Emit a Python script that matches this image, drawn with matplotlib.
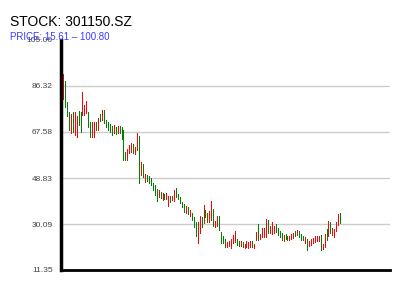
import matplotlib.pyplot as plt

plt.rcParams['font.family'] = ['Liberation Sans', 'DejaVu Sans']

TICKER = "301150.SZ"
PRICE_LOW = 15.61
PRICE_HIGH = 100.80

# daily open / close
opens = [
    81.0, 88.0, 79.4, 75.3, 67.2, 75.3, 66.4, 65.6, 75.7, 75.3,
    74.5, 74.5, 75.3, 75.3, 71.3, 65.6, 65.6, 71.3, 68.4, 74.5,
    72.5, 76.1, 72.1, 71.3, 70.4, 69.6, 67.2, 69.2, 67.2, 69.6,
    69.2, 68.0, 59.0, 56.2, 59.0, 59.4, 62.3, 58.6, 60.2, 65.6,
    50.1, 54.1, 47.2, 49.7, 49.3, 48.4, 46.4, 45.6, 44.0, 41.1,
    42.7, 39.9, 41.9, 40.3, 37.4, 41.1, 39.9, 39.5, 44.4, 41.9,
    40.7, 38.7, 37.8, 34.6, 36.6, 33.4, 34.2, 32.6, 30.5, 22.4,
    26.4, 32.6, 30.5, 35.4, 34.2, 30.9, 31.7, 35.8, 28.9, 29.3,
    33.0, 26.4, 24.8, 23.6, 20.7, 21.1, 20.3, 22.4, 22.8, 23.6,
    22.8, 21.1, 22.4, 20.3, 20.7, 20.3, 20.7, 22.8, 20.3, 23.6,
    29.7, 24.0, 24.8, 24.8, 24.8, 31.3, 26.4, 26.0, 26.4, 29.7,
    28.1, 26.8, 26.0, 23.2, 25.6, 24.8, 23.6, 24.0, 24.4, 26.8,
    25.6, 26.8, 25.6, 24.8, 22.4, 23.6, 21.1, 21.6, 22.4, 22.8,
    23.2, 23.2, 25.2, 19.9, 20.7, 27.7, 25.2, 30.5, 25.6, 24.8,
    27.3, 29.7, 34.2,
]
closes = [
    90.8, 77.8, 74.1, 68.4, 74.5, 67.6, 75.3, 73.7, 70.4, 67.6,
    83.5, 78.2, 79.8, 69.6, 65.6, 71.3, 71.3, 68.4, 72.9, 72.1,
    76.1, 71.3, 69.6, 68.4, 67.6, 66.4, 70.0, 66.8, 69.6, 67.2,
    64.7, 56.2, 56.2, 60.2, 61.9, 62.7, 59.0, 61.1, 66.8, 46.8,
    55.0, 49.3, 50.1, 47.6, 46.8, 46.0, 44.0, 41.9, 39.5, 43.6,
    40.7, 42.3, 40.3, 42.3, 41.1, 39.1, 41.1, 43.6, 41.1, 40.3,
    38.7, 37.0, 35.0, 37.0, 34.2, 35.4, 31.7, 28.9, 25.2, 30.5,
    33.0, 28.9, 37.4, 33.0, 30.9, 35.0, 39.1, 29.3, 30.9, 33.0,
    27.7, 22.4, 22.4, 20.7, 22.4, 22.8, 23.6, 25.2, 26.8, 21.6,
    21.1, 22.8, 20.7, 21.6, 22.8, 22.4, 22.8, 20.7, 21.6, 26.4,
    23.6, 25.6, 28.1, 28.1, 31.7, 26.4, 28.9, 30.5, 28.9, 26.8,
    25.6, 24.8, 23.6, 25.2, 24.0, 23.6, 24.8, 25.6, 26.0, 25.2,
    27.3, 24.8, 23.6, 23.6, 24.4, 19.5, 22.8, 23.6, 24.0, 24.8,
    24.8, 24.8, 19.5, 21.6, 25.6, 23.6, 30.9, 26.4, 28.1, 27.7,
    30.5, 33.8, 30.5,
]

y_ticks = [11.35, 30.09, 48.83, 67.58, 86.32, 105.06]

fig = plt.figure(figsize=(4, 3), dpi=100)
ax = fig.add_axes([0.1525, 0.1, 0.8225, 0.7667])

for t in y_ticks[1:-1]:
    ax.axhline(t, color='#cccccc', lw=1, zorder=0)

# red = close above open, green = close below open
x = list(range(len(opens)))
lo = [min(a, b) for a, b in zip(opens, closes)]
hi = [max(a, b) + 0.3 for a, b in zip(opens, closes)]
cols = ['#ff0000' if b >= a else '#008000' for a, b in zip(opens, closes)]
ax.vlines(x, lo, hi, colors=cols, linewidth=0.72, antialiased=False, zorder=2)

ax.set_xlim(-1, 167.5)
ax.set_ylim(y_ticks[0], y_ticks[-1])
ax.set_yticks(y_ticks)
ax.set_yticklabels([f"{t:.2f}" for t in y_ticks], fontsize=6, color='#444444')
ax.tick_params(axis='y', length=0, pad=6)
ax.set_xticks([])

for s in ['top', 'right']:
    ax.spines[s].set_visible(False)
ax.spines['left'].set_linewidth(2.5)
ax.spines['bottom'].set_linewidth(2)

fig.text(10 / 400, 1 - 26 / 300, f"STOCK: {TICKER}", fontsize=10,
         color='black', ha='left', va='baseline')
fig.text(10 / 400, 1 - 40 / 300, f"PRICE: {PRICE_LOW:.2f} – {PRICE_HIGH:.2f}",
         fontsize=7, color='#3b3bff', ha='left', va='baseline', zorder=5)

fig.savefig('out.png', dpi=100)
